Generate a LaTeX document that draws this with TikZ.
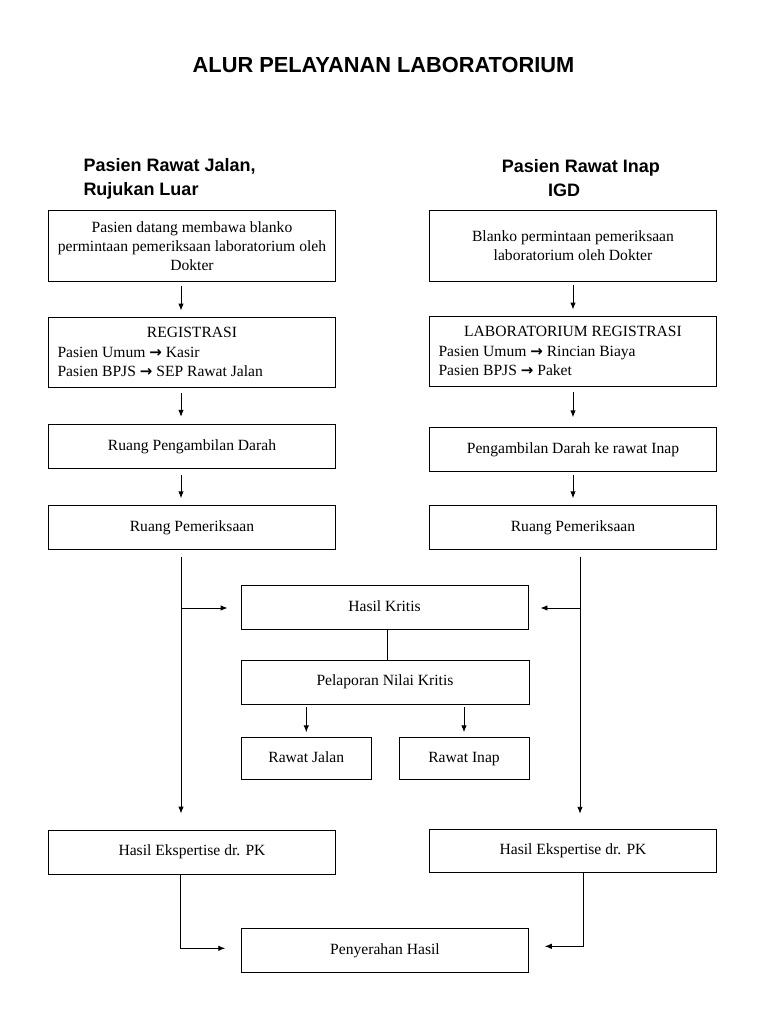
\documentclass[tikz,border=0pt]{standalone}
\usepackage{fontspec}
\setmainfont{Liberation Serif}
\newfontfamily\hsans{Liberation Sans}
\newfontfamily\arrfont{DejaVu Sans}
\usetikzlibrary{arrows.meta,calc}
\newcommand\rarr{{\arrfont\bfseries\fontsize{15}{15}\selectfont →}}
\begin{document}
\begin{tikzpicture}[x=1pt,y=-1pt,
  box/.style={draw, line width=0.9pt, inner sep=0pt, minimum width=287pt, align=center,
    font=\fontsize{15.6}{19.2}\selectfont},
  one/.style={text height=10.8pt, text depth=3.4pt},
  arr/.style={line width=0.9pt, -{Latex[length=7pt,width=5.5pt]}},
  ln/.style={line width=0.9pt},
  hdr/.style={anchor=base west, inner sep=0pt, font=\hsans\bfseries\fontsize{18}{22}\selectfont},
  ttl/.style={anchor=base, inner sep=0pt, font=\hsans\bfseries\fontsize{21.8}{26}\selectfont}]
\fill[white] (0,0) rectangle (768,1024);
\useasboundingbox (0,0) rectangle (768,1024);

\node[ttl] (title) at (383.5,72.7) {ALUR PELAYANAN LABORATORIUM};

\node[hdr] (hl1) at (83.3,172) {Pasien Rawat Jalan,};
\node[hdr] (hl2) at (83.3,195.5) {Rujukan Luar};
\node[hdr] (hr1) at (501.7,172.5) {Pasien Rawat Inap};
\node[hdr] (hr2) at (548,196.5) {IGD};

% left column
\node[box, minimum height=71pt] (L1) at (192,246.2)
  {Pasien datang membawa blanko\\permintaan pemeriksaan laboratorium oleh\\Dokter};
\node[box, minimum height=70pt] (L2) at (192,352)
  {\parbox{269pt}{\centering REGISTRASI\par\raggedright Pasien Umum \rarr{} Kasir\par Pasien BPJS \rarr{} SEP Rawat Jalan}};
\node[box, one, minimum height=44pt] (L3) at (192,446.3) {Ruang Pengambilan Darah};
\node[box, one, minimum height=43.5pt] (L4) at (192,527.5) {Ruang Pemeriksaan};

% right column
\node[box, minimum height=71pt] (R1) at (573,245.5)
  {Blanko permintaan pemeriksaan\\laboratorium oleh Dokter};
\node[box, minimum height=70pt] (R2) at (573,351)
  {\parbox{269pt}{\centering LABORATORIUM REGISTRASI\par\raggedright Pasien Umum \rarr{} Rincian Biaya\par Pasien BPJS \rarr{} Paket}};
\node[box, one, minimum height=43.5pt] (R3) at (573,449.5) {Pengambilan Darah ke rawat Inap};
\node[box, one, minimum height=43.5pt] (R4) at (573,527.5) {Ruang Pemeriksaan};

% middle
\node[box, one, minimum height=43.5pt] (HK) at (384.5,607.5) {Hasil Kritis};
\node[box, one, minimum width=288pt, minimum height=44pt] (PN) at (385,682) {Pelaporan Nilai Kritis};
\node[box, one, minimum width=129.5pt, minimum height=41.5pt] (RJ) at (306.3,758.5) {Rawat Jalan};
\node[box, one, minimum width=130pt, minimum height=41.5pt] (RI) at (464,758.5) {Rawat Inap};

% bottom
\node[box, one, minimum height=44pt] (HL) at (192,852) {Hasil Ekspertise dr. PK};
\node[box, one, minimum height=43.5pt] (HR) at (573,851) {Hasil Ekspertise dr. PK};
\node[box, one, minimum width=286.6pt, minimum height=44pt] (PH) at (385,950.3) {Penyerahan Hasil};

% helper coordinates
\coordinate (xl) at (181,0);
\coordinate (xr) at (580,0);
\coordinate (xm) at (387,0);
\coordinate (kl) at (181,608);
\coordinate (kr) at (580,608);
\coordinate (bl) at (180,0);
\coordinate (br) at (583.7,0);

% left column arrows
\draw[arr, shorten <=3.5pt, shorten >=6pt] (L1.south -| xl) -- (L2.north -| xl);
\draw[arr, shorten <=6pt, shorten >=7pt] (L2.south -| xl) -- (L3.north -| xl);
\draw[arr, shorten <=6pt, shorten >=7pt] (L3.south -| xl) -- (L4.north -| xl);
% right column arrows
\draw[arr, shorten <=4pt, shorten >=6pt] (R1.south) -- (R2.north);
\draw[arr, shorten <=6pt, shorten >=10pt] (R2.south) -- (R3.north);
\draw[arr, shorten <=3pt, shorten >=7pt] (R3.south) -- (R4.north);

% trunks
\draw[arr, shorten <=7pt, shorten >=16pt] (L4.south -| xl) -- (HL.north -| xl);
\draw[arr, shorten <=7pt, shorten >=15pt] (R4.south -| xr) -- (HR.north -| xr);
\draw[arr, shorten >=13pt] (kl) -- (kl -| HK.west);
\draw[arr, shorten >=12pt] (kr) -- (kr -| HK.east);

% critical reporting
\draw[ln] (HK.south -| xm) -- (PN.north -| xm);
\draw[arr, shorten <=3pt, shorten >=5pt] (PN.south -| RJ.north) -- (RJ.north);
\draw[arr, shorten <=3pt, shorten >=5pt] (PN.south -| RI.north) -- (RI.north);

% bottom
\draw[arr, shorten >=16pt] (HL.south -| bl) |- ($(PH.west)+(0,-2)$);
\draw[arr, shorten >=16pt] (HR.south -| br) |- ($(PH.east)+(0,-4)$);
\end{tikzpicture}
\end{document}
